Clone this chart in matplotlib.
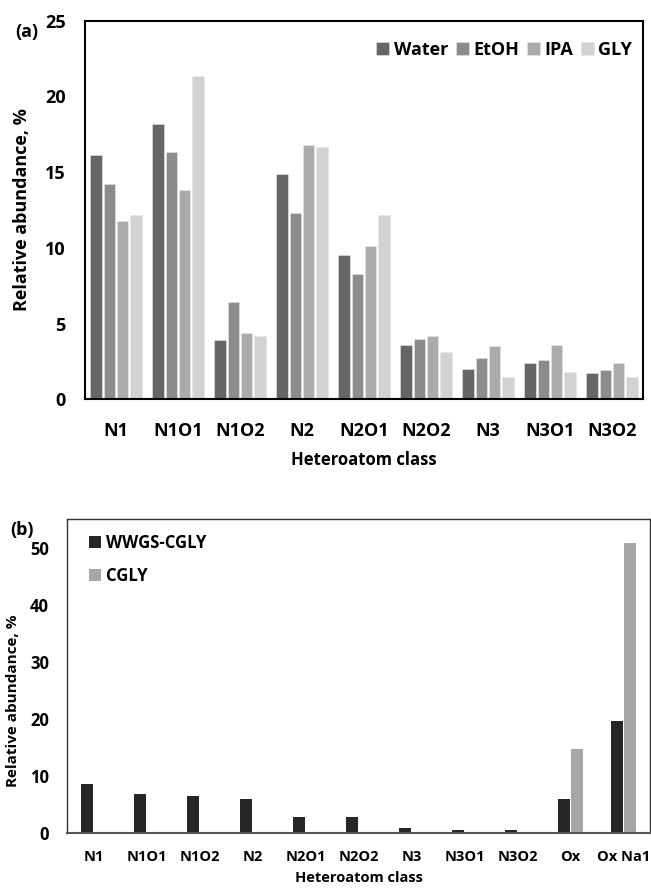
import matplotlib
matplotlib.use('Agg')
import matplotlib.pyplot as plt
import numpy as np

plt.rcParams['font.family'] = ['Open Sans', 'DejaVu Sans']
plt.rcParams['font.weight'] = 'bold'

# panel (a)
classes_a = ['N1', 'N1O1', 'N1O2', 'N2', 'N2O1', 'N2O2', 'N3', 'N3O1', 'N3O2']
water = [16.1, 18.2, 3.9, 14.9, 9.5, 3.6, 2.0, 2.4, 1.75]
etoh = [14.2, 16.3, 6.4, 12.3, 8.3, 4.0, 2.7, 2.6, 1.95]
ipa = [11.75, 13.85, 4.35, 16.8, 10.15, 4.15, 3.5, 3.6, 2.4]
gly = [12.2, 21.35, 4.2, 16.65, 12.2, 3.15, 1.45, 1.8, 1.45]
series_a = ['Water', 'EtOH', 'IPA', 'GLY']
colors_a = ['#666666', '#8c8c8c', '#ababab', '#d2d2d2']

# panel (b)
classes_b = ['N1', 'N1O1', 'N1O2', 'N2', 'N2O1', 'N2O2', 'N3', 'N3O1', 'N3O2', 'Ox', 'Ox Na1']
wwgs = [8.6, 6.8, 6.4, 6.0, 2.75, 2.75, 0.8, 0.6, 0.6, 5.9, 19.7]
cgly = [0, 0, 0, 0, 0, 0, 0, 0, 0, 14.8, 50.8]
series_b = ['WWGS-CGLY', 'CGLY']
colors_b = ['#262626', '#a6a6a6']

fig = plt.figure(figsize=(6.51, 8.88), dpi=100)

# ---- top panel ----
ax1 = fig.add_axes([0.1306, 0.5503, 0.857, 0.4264])
x = np.arange(len(classes_a))
step = 0.215
w = 0.18
for i, (vals, name) in enumerate(zip([water, etoh, ipa, gly], series_a)):
    ax1.bar(x + (i - 1.5) * step, vals, w, color=colors_a[i], label=name,
            edgecolor='#e6e6e6', linewidth=0.4)
ax1.set_xlim(-0.5, len(classes_a) - 0.5)
ax1.set_ylim(0, 25)
ax1.set_yticks([0, 5, 10, 15, 20, 25])
ax1.set_xticks(x)
ax1.set_xticklabels(classes_a)
ax1.tick_params(axis='both', length=0, labelsize=13)
ax1.tick_params(axis='x', pad=16)
ax1.tick_params(axis='y', pad=14)
for s in ax1.spines.values():
    s.set_linewidth(1.5)
    s.set_color('black')
ax1.set_ylabel('Relative abundance, %', fontsize=13, fontweight='bold', labelpad=10)
ax1.set_xlabel('Heteroatom class', fontsize=12, fontweight='bold', labelpad=8)
ax1.legend(loc='upper right', ncol=4, frameon=False, fontsize=13,
           handlelength=0.7, handleheight=0.7, handletextpad=0.25,
           columnspacing=0.45, bbox_to_anchor=(1.01, 0.99))
fig.text(0.024, 0.958, '(a)', fontsize=13, fontweight='bold')

# ---- bottom panel ----
ax2 = fig.add_axes([0.103, 0.0619, 0.8955, 0.3536])
xb = np.arange(len(classes_b))
wb = 0.23
ax2.bar(xb - wb / 2 - 0.01, wwgs, wb, color=colors_b[0], label=series_b[0])
ax2.bar(xb + wb / 2 + 0.01, cgly, wb, color=colors_b[1], label=series_b[1])
ax2.set_xlim(-0.5, len(classes_b) - 0.5)
ax2.set_ylim(0, 55)
ax2.set_yticks([0, 10, 20, 30, 40, 50])
ax2.set_xticks(xb)
ax2.set_xticklabels(classes_b)
ax2.tick_params(axis='both', length=0, labelsize=10.5)
ax2.tick_params(axis='x', pad=12)
ax2.tick_params(axis='y', pad=13)
ax2.tick_params(axis='y', labelsize=12)
for s in ax2.spines.values():
    s.set_linewidth(1.0)
    s.set_color('#333333')
ax2.spines['bottom'].set_color('#555555')
ax2.spines['bottom'].set_linewidth(1.5)
ax2.set_ylabel('Relative abundance, %', fontsize=11, fontweight='bold')
ax2.yaxis.set_label_coords(-0.08, 0.42)
ax2.set_xlabel('Heteroatom class', fontsize=10.5, fontweight='bold', labelpad=5)
ax2.legend(loc='upper left', frameon=False, fontsize=12,
           handlelength=0.7, handleheight=0.7, handletextpad=0.3,
           labelspacing=0.9, bbox_to_anchor=(0.012, 1.0))
fig.text(0.016, 0.397, '(b)', fontsize=13, fontweight='bold')

fig.savefig('out.png', dpi=100)
